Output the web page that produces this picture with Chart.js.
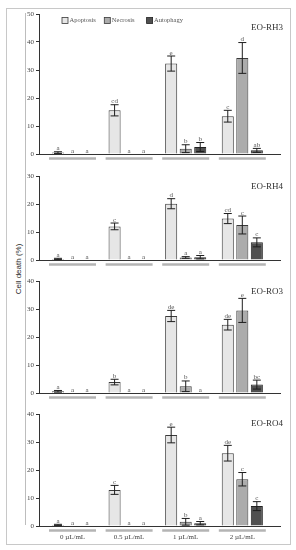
<!DOCTYPE html>
<html>
<head>
<meta charset="utf-8">
<script src="https://cdn.jsdelivr.net/npm/chart.js@4.4.1/dist/chart.umd.min.js"></script>
<style>
  body { margin: 0; background: #fff; }
  #page { position: relative; width: 296px; height: 550px; overflow: hidden; }
  .frame { position: absolute; left: 6px; top: 8px; width: 283px; height: 535px; border: 1px solid #c8c8c8; }
  .vline { position: absolute; left: 25px; top: 13px; width: 1px; height: 512px; background: #bdbdbd; }
  .ylab { position: absolute; left: 18px; top: 269px; transform: translate(-50%, -50%) rotate(-90deg);
          font: 8px "Liberation Sans", Arial, sans-serif; color: #2a2a2a; white-space: nowrap;
          -webkit-font-smoothing: grayscale; }
  .panel { position: absolute; left: 0; width: 296px; }
</style>
</head>
<body>
<div id="page">
  <div class="frame"></div>
  <div class="vline"></div>
  <div class="ylab">Cell death (%)</div>
  <div class="panel" style="top:6px;height:156px"><canvas id="chRH3"></canvas></div>
  <div class="panel" style="top:168px;height:102px"><canvas id="chRH4"></canvas></div>
  <div class="panel" style="top:273px;height:130px"><canvas id="chRO3"></canvas></div>
  <div class="panel" style="top:406px;height:140px"><canvas id="chRO4"></canvas></div>
</div>
<script>
// categories and series
var doses = ['0 µL/mL', '0.5 µL/mL', '1 µL/mL', '2 µL/mL'];
var seriesNames = ['Apoptosis', 'Necrosis', 'Autophagy'];

// EO-RH3
var rh3Apoptosis = [0.5, 15.6, 32.3, 13.5];
var rh3Necrosis = [0, 0, 1.9, 34.3];
var rh3Autophagy = [0, 0, 2.5, 1.3];
var rh3ApoptosisErr = [0.3, 2.0, 2.7, 2.1];
var rh3NecrosisErr = [0, 0, 1.4, 5.5];
var rh3AutophagyErr = [0, 0, 1.6, 0.7];
var rh3Letters = [['a', 'cd', 'e', 'c'], ['a', 'a', 'b', 'd'], ['a', 'a', 'b', 'ab']];

// EO-RH4
var rh4Apoptosis = [0.4, 12.0, 20.1, 14.8];
var rh4Necrosis = [0, 0, 0.9, 12.5];
var rh4Autophagy = [0, 0, 1.0, 6.3];
var rh4ApoptosisErr = [0.2, 1.2, 1.8, 1.8];
var rh4NecrosisErr = [0, 0, 0.3, 3.2];
var rh4AutophagyErr = [0, 0, 0.6, 1.6];
var rh4Letters = [['a', 'c', 'd', 'cd'], ['a', 'a', 'a', 'c'], ['a', 'a', 'a', 'c']];

// EO-RO3
var ro3Apoptosis = [0.6, 3.9, 27.5, 24.4];
var ro3Necrosis = [0, 0, 2.4, 29.5];
var ro3Autophagy = [0, 0, 0, 3.0];
var ro3ApoptosisErr = [0.3, 1.0, 2.0, 1.9];
var ro3NecrosisErr = [0, 0, 1.9, 4.3];
var ro3AutophagyErr = [0, 0, 0, 1.6];
var ro3Letters = [['a', 'b', 'de', 'de'], ['a', 'a', 'b', 'e'], ['a', 'a', 'a', 'bc']];

// EO-RO4
var ro4Apoptosis = [0.4, 12.9, 32.5, 26.0];
var ro4Necrosis = [0, 0, 1.5, 16.7];
var ro4Autophagy = [0, 0, 1.0, 7.1];
var ro4ApoptosisErr = [0.2, 1.6, 2.8, 2.8];
var ro4NecrosisErr = [0, 0, 1.2, 2.4];
var ro4AutophagyErr = [0, 0, 0.6, 1.6];
var ro4Letters = [['a', 'c', 'e', 'de'], ['a', 'a', 'b', 'c'], ['a', 'a', 'a', 'c']];

var fills = ['#e6e6e6', '#acacac', '#505050'];
var edges = ['#3a3a3a', '#3a3a3a', '#222222'];
var serif = '"Liberation Serif", "Times New Roman", serif';

function toPoints(arr) {
    return arr.map(function(v, i) { return { x: i, y: v }; });
}

// error bars + significance letters
var errorBars = {
    id: 'errorBars',
    afterDatasetsDraw: function(chart) {
        var ctx = chart.ctx, y = chart.scales.y;
        ctx.save();
        chart.data.datasets.forEach(function(ds, di) {
            var meta = chart.getDatasetMeta(di);
            meta.data.forEach(function(bar, i) {
                var v = ds.data[i].y, e = ds.errors[i];
                var top = y.getPixelForValue(v + e);
                if (e > 0) {
                    var bot = y.getPixelForValue(Math.max(v - e, 0));
                    ctx.strokeStyle = '#1e1e1e';
                    ctx.lineWidth = 1;
                    ctx.beginPath();
                    ctx.moveTo(bar.x, top); ctx.lineTo(bar.x, bot);
                    ctx.moveTo(bar.x - 4, top); ctx.lineTo(bar.x + 4, top);
                    ctx.moveTo(bar.x - 4, bot); ctx.lineTo(bar.x + 4, bot);
                    ctx.stroke();
                }
                ctx.fillStyle = '#555';
                ctx.font = '7px ' + serif;
                ctx.textAlign = 'center';
                ctx.textBaseline = 'alphabetic';
                ctx.fillText(ds.letters[i], bar.x, Math.min(top, y.getPixelForValue(0)) - 1.5);
            });
        });
        ctx.restore();
    }
};

// gray group underline, panel name, legend
var decor = {
    id: 'decor',
    afterDraw: function(chart) {
        var ctx = chart.ctx, x = chart.scales.x, area = chart.chartArea;
        var o = chart.options.plugins.decor;
        ctx.save();
        ctx.strokeStyle = '#b4b4b4';
        ctx.lineWidth = 2.5;
        doses.forEach(function(d, i) {
            ctx.beginPath();
            ctx.moveTo(x.getPixelForValue(i - 0.415), area.bottom + 4.5);
            ctx.lineTo(x.getPixelForValue(i + 0.415), area.bottom + 4.5);
            ctx.stroke();
        });
        ctx.fillStyle = '#333';
        ctx.font = '9px ' + serif;
        ctx.textAlign = 'right';
        ctx.textBaseline = 'middle';
        ctx.fillText(o.name, area.right + 3, area.top + o.nameOffset);
        if (o.legend) {
            ctx.font = '6.5px ' + serif;
            ctx.textAlign = 'left';
            chart.data.datasets.forEach(function(ds, i) {
                var lx = area.left + 23 + i * 42.3, ly = area.top + 3.5;
                ctx.fillStyle = ds.backgroundColor;
                ctx.fillRect(lx, ly, 6, 6);
                ctx.strokeStyle = ds.borderColor;
                ctx.lineWidth = 0.8;
                ctx.strokeRect(lx, ly, 6, 6);
                ctx.fillStyle = '#555';
                ctx.fillText(ds.label, lx + 7.5, ly + 3.2);
            });
        }
        ctx.restore();
    }
};

function makePanel(id, name, yMax, cols, errs, letters, opts) {
    var el = document.getElementById(id);
    if (!el) return;
    new Chart(el, {
        type: 'bar',
        data: {
            datasets: seriesNames.map(function(s, k) {
                return {
                    label: s,
                    data: toPoints(cols[k]),
                    errors: errs[k],
                    letters: letters[k],
                    backgroundColor: fills[k],
                    borderColor: edges[k],
                    borderWidth: 1,
                    categoryPercentage: 0.77,
                    barPercentage: 0.83
                };
            })
        },
        options: {
            responsive: true,
            maintainAspectRatio: false,
            animation: false,
            layout: { padding: { top: 8, right: 16, left: 0, bottom: 0 } },
            plugins: {
                legend: { display: false },
                tooltip: { enabled: false },
                decor: { name: name, nameOffset: opts.nameOffset, legend: opts.legend }
            },
            scales: {
                x: {
                    type: 'linear',
                    offset: false,
                    min: -0.592,
                    max: 3.666,
                    afterFit: function(s) { s.height = opts.xHeight; },
                    afterBuildTicks: function(s) {
                        s.ticks = doses.map(function(d, i) { return { value: i }; });
                    },
                    grid: { display: false, drawTicks: false },
                    border: { display: true, color: '#333', width: 1 },
                    ticks: {
                        display: opts.xLabels,
                        padding: 7,
                        maxRotation: 0,
                        autoSkip: false,
                        color: '#444',
                        font: { family: serif, size: 7 },
                        callback: function(v) { return doses[v]; }
                    }
                },
                y: {
                    min: 0,
                    max: yMax,
                    afterFit: function(s) { s.width = 39; },
                    grid: { drawOnChartArea: false, drawTicks: true, tickLength: 3, color: '#333' },
                    border: { display: true, color: '#333', width: 1 },
                    ticks: {
                        stepSize: 10,
                        padding: 2,
                        color: '#444',
                        font: { family: serif, size: 7 }
                    }
                }
            }
        },
        plugins: [errorBars, decor]
    });
}

makePanel('chRH3', 'EO-RH3', 50,
    [rh3Apoptosis, rh3Necrosis, rh3Autophagy],
    [rh3ApoptosisErr, rh3NecrosisErr, rh3AutophagyErr], rh3Letters,
    { nameOffset: 14, legend: true, xHeight: 8, xLabels: false });
makePanel('chRH4', 'EO-RH4', 30,
    [rh4Apoptosis, rh4Necrosis, rh4Autophagy],
    [rh4ApoptosisErr, rh4NecrosisErr, rh4AutophagyErr], rh4Letters,
    { nameOffset: 11, legend: false, xHeight: 10, xLabels: false });
makePanel('chRO3', 'EO-RO3', 40,
    [ro3Apoptosis, ro3Necrosis, ro3Autophagy],
    [ro3ApoptosisErr, ro3NecrosisErr, ro3AutophagyErr], ro3Letters,
    { nameOffset: 11, legend: false, xHeight: 10, xLabels: false });
makePanel('chRO4', 'EO-RO4', 40,
    [ro4Apoptosis, ro4Necrosis, ro4Autophagy],
    [ro4ApoptosisErr, ro4NecrosisErr, ro4AutophagyErr], ro4Letters,
    { nameOffset: 10, legend: false, xHeight: 20, xLabels: true });
</script>
</body>
</html>
